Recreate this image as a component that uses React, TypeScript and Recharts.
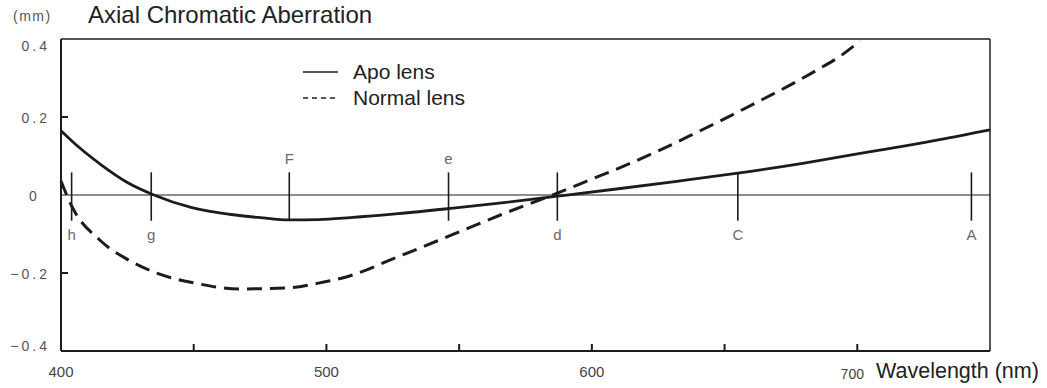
import { Legend, Line, LineChart, ReferenceLine, XAxis, YAxis } from "recharts";

const wavelengthTicks = [400, 450, 500, 550, 600, 650, 700];
const labelledWavelengths = [400, 500, 600, 700];
const aberrationTicks = [-0.4, -0.2, 0, 0.2, 0.4];

const apoWavelength = [400, 407, 415, 425, 435, 449, 464, 475, 486, 497, 509, 527, 546, 566, 587, 610, 632, 655, 680, 705, 728, 750];
const apoShift = [0.165, 0.121, 0.078, 0.032, 0.0, -0.032, -0.05, -0.058, -0.064, -0.063, -0.058, -0.048, -0.035, -0.02, -0.003, 0.016, 0.035, 0.056, 0.082, 0.111, 0.138, 0.167];

const normalWavelength = [400, 404, 415, 425, 434, 452, 467, 486, 497, 509, 525, 547, 566, 587, 599, 612, 625, 637, 649, 662, 675, 685, 694, 701];
const normalShift = [0.036, -0.028, -0.118, -0.165, -0.195, -0.228, -0.241, -0.238, -0.226, -0.207, -0.164, -0.103, -0.05, 0.005, 0.038, 0.074, 0.113, 0.152, 0.192, 0.237, 0.283, 0.321, 0.358, 0.395];

const fraunhoferNames = ["h", "g", "F", "e", "d", "C", "A"];
const fraunhoferWavelengths = [404, 434, 486, 546, 587, 655, 743];
const fraunhoferAbove = [false, false, true, true, false, false, false];

const legendNames = ["Apo lens", "Normal lens"];
const legendDashes = ["", "5 4"];

const apoData = apoWavelength.map((wl, i) => ({ wl, shift: apoShift[i] }));
const normalData = normalWavelength.map((wl, i) => ({ wl, shift: normalShift[i] }));

const FONT = "'Liberation Sans', Arial, sans-serif";
const INK = "#1c1c1c";

function WavelengthTick({ x, y, payload }: any) {
  const v = payload.value;
  const labelled = labelledWavelengths.includes(v);
  return (
    <g>
      {v !== 400 && <line x1={x} x2={x} y1={y} y2={y - 7} stroke={INK} strokeWidth={2} />}
      {labelled && (
        <text
          x={x}
          dx={v === 700 ? -5 : 0}
          y={y + (v === 700 ? 28 : 26)}
          textAnchor="middle"
          fill="#444"
          fontSize={v === 700 ? 14 : 15}
          fontFamily={FONT}
        >
          {v}
        </text>
      )}
    </g>
  );
}

function ShiftTick({ x, y, payload }: any) {
  const v = payload.value;
  const label = `${v < 0 ? "−" : ""}${Math.abs(v)}`;
  const dy = v === 0.4 ? 8 : v === -0.4 ? -4 : 2;
  return (
    <g>
      {Math.abs(v) === 0.2 && <line x1={x} x2={x + 7} y1={y} y2={y} stroke={INK} strokeWidth={2} />}
      <text
        x={v === 0 ? x - 28 : x - 11}
        y={y + dy}
        textAnchor={v === 0 ? "middle" : "end"}
        dominantBaseline="middle"
        fill="#555"
        fontSize={14}
        letterSpacing={v === 0 ? 0 : 3}
        fontFamily={FONT}
      >
        {label}
      </text>
    </g>
  );
}

function LensLegend() {
  return (
    <div style={{ fontFamily: FONT, fontSize: 21, color: "#222", lineHeight: "26px" }}>
      {legendNames.map((name, i) => (
        <div key={name} style={{ display: "flex", alignItems: "center", height: 26 }}>
          <svg width={50} height={26}>
            <line x1={0} x2={35} y1={13} y2={13} stroke={INK} strokeWidth={1.5} strokeDasharray={legendDashes[i]} />
          </svg>
          <span>{name}</span>
        </div>
      ))}
    </div>
  );
}

export default function App() {
  return (
    <div style={{ position: "absolute", left: 0, top: 0, width: 1047, height: 388, background: "#fff", fontFamily: FONT }}>
      <div style={{ position: "absolute", left: 13, top: 8, fontSize: 14, letterSpacing: 1.5, color: "#555" }}>(mm)</div>
      <div style={{ position: "absolute", left: 88, top: 1, fontSize: 24, color: "#222" }}>Axial Chromatic Aberration</div>
      <div style={{ position: "absolute", left: 876, top: 359, fontSize: 21.5, color: "#222" }}>Wavelength (nm)</div>
      <LineChart width={1047} height={388} margin={{ top: 39, right: 57, bottom: 0, left: 0 }}>
        <XAxis
          dataKey="wl"
          type="number"
          domain={[400, 750]}
          ticks={wavelengthTicks}
          tick={<WavelengthTick />}
          tickSize={0}
          tickMargin={0}
          tickLine={false}
          height={37}
          axisLine={{ stroke: INK, strokeWidth: 2 }}
          allowDuplicatedCategory={false}
        />
        <YAxis
          type="number"
          domain={[-0.4, 0.4]}
          ticks={aberrationTicks}
          tick={<ShiftTick />}
          tickSize={0}
          tickMargin={0}
          tickLine={false}
          width={61}
          axisLine={{ stroke: INK, strokeWidth: 2 }}
        />
        <ReferenceLine y={0.4} stroke={INK} strokeWidth={1.5} />
        <ReferenceLine x={750} stroke={INK} strokeWidth={1.5} />
        <ReferenceLine y={0} stroke={INK} strokeWidth={1.2} />
        {fraunhoferWavelengths.map((wl, i) => (
          <ReferenceLine
            key={fraunhoferNames[i]}
            segment={[{ x: wl, y: -0.066 }, { x: wl, y: 0.058 }]}
            stroke={INK}
            strokeWidth={1.6}
            ifOverflow="visible"
            label={{
              value: fraunhoferNames[i],
              position: fraunhoferAbove[i] ? "top" : "bottom",
              offset: fraunhoferAbove[i] ? 8 : 9,
              fill: "#6a6a6a",
              fontSize: 15,
              fontFamily: FONT,
            }}
          />
        ))}
        <Line
          data={normalData}
          dataKey="shift"
          name="Normal lens"
          type="monotone"
          stroke={INK}
          strokeWidth={3}
          strokeDasharray="15 8"
          dot={false}
          isAnimationActive={false}
        />
        <Line
          data={apoData}
          dataKey="shift"
          name="Apo lens"
          type="monotone"
          stroke={INK}
          strokeWidth={2.8}
          dot={false}
          isAnimationActive={false}
        />
        <Legend
          layout="horizontal"
          align="center"
          verticalAlign="middle"
          content={<LensLegend />}
          wrapperStyle={{ position: "absolute", left: 303, top: 59, width: 220 }}
        />
      </LineChart>
    </div>
  );
}
